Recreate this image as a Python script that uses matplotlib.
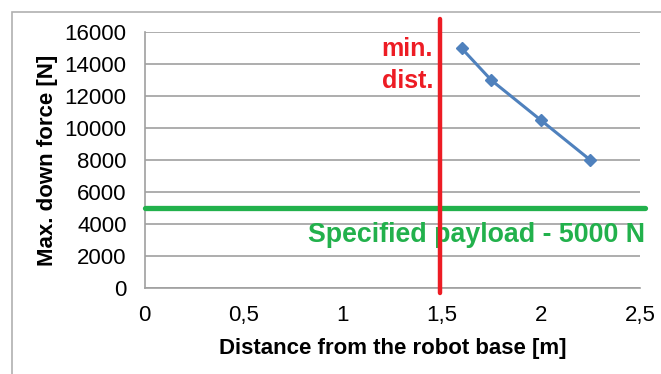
import numpy as np
import matplotlib.pyplot as plt
from matplotlib.patches import Rectangle

# measured max. down force vs. distance from the robot base
distance = [1.6, 1.75, 2.0, 2.25]
force = [15000, 13000, 10500, 8000]

min_dist = 1.49
payload = 5000

x_ticks = [0, 0.5, 1, 1.5, 2, 2.5]
x_ticklabels = ['0', '0,5', '1', '1,5', '2', '2,5']
y_ticks = [0, 2000, 4000, 6000, 8000, 10000, 12000, 14000, 16000]

plt.rcParams['font.family'] = ['Liberation Sans', 'DejaVu Sans']

fig = plt.figure(figsize=(6.61, 3.74), dpi=100)
fig.patches.append(Rectangle((12 / 661, -0.1), 1.2, 1 - 12 / 374 + 0.1,
                             transform=fig.transFigure, fill=False,
                             edgecolor='#b0b0b0', linewidth=1.2))

ax = fig.add_axes([0.2188, 0.2299, 0.7494, 0.6837])
ax.set_xlim(0, 2.5)
ax.set_ylim(0, 16000)

ax.grid(axis='y', color='#a0a0a0', linewidth=1.2)
ax.set_axisbelow(True)
for s in ['top', 'right']:
    ax.spines[s].set_visible(False)
ax.spines['left'].set_color('#a0a0a0')
ax.spines['bottom'].set_color('#a0a0a0')
ax.spines['left'].set_linewidth(1.2)
ax.spines['bottom'].set_linewidth(1.2)

ax.set_xticks(x_ticks)
ax.set_xticklabels(x_ticklabels)
ax.set_yticks(y_ticks)
ax.tick_params(length=0, labelsize=16)
ax.tick_params(axis='x', pad=12)
ax.tick_params(axis='y', pad=13)

ax.plot(distance, force, color='#4f81bd', linewidth=2.2, marker='D',
        markersize=6, zorder=4)

# payload limit and minimal distance
ax.plot([0, 2.525], [payload, payload], color='#22b14c', linewidth=3.8,
        solid_capstyle='round', clip_on=False, zorder=3)
ax.plot([min_dist, min_dist], [-290, 16850], color='#ed1c24', linewidth=3.2,
        solid_capstyle='round', clip_on=False, zorder=5)

ax.text(1.455, 14950, 'min.', color='#ed1c24', fontsize=18, fontweight='bold',
        ha='right', va='center')
ax.text(1.455, 12950, 'dist.', color='#ed1c24', fontsize=18, fontweight='bold',
        ha='right', va='center')
ax.text(2.525, 3300, 'Specified payload - 5000 N', color='#22b14c', fontsize=19.3,
        fontweight='bold', ha='right', va='center', zorder=4)

ax.set_xlabel('Distance from the robot base [m]', fontsize=16,
              fontweight='bold', labelpad=9)
ax.set_ylabel('Max. down force [N]', fontsize=16, fontweight='bold',
              labelpad=5)

fig.savefig('out.png', dpi=100)
